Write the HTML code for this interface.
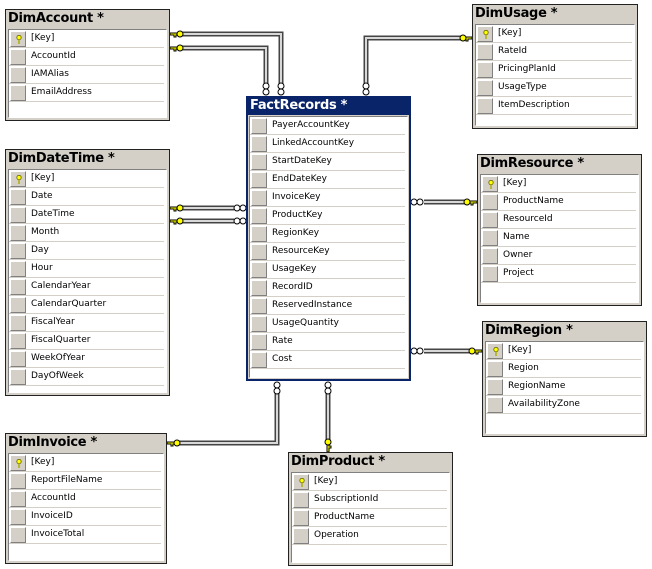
<!DOCTYPE html>
<html><head><meta charset="utf-8"><style>
body{margin:0;width:652px;height:569px;background:#fff;position:relative;overflow:hidden;font-family:"DejaVu Sans","Liberation Sans",sans-serif;}
.t{position:absolute;border:1px solid #222;background:#d4d0c8;box-sizing:border-box;}
.t .h{position:absolute;left:2px;top:1px;font:bold 13px "DejaVu Sans",sans-serif;color:#000;letter-spacing:-0.3px;}
.t .b{position:absolute;left:2px;right:2px;top:19px;bottom:2px;background:#fff;border:1px solid #808080;border-right-color:#fff;border-bottom-color:#fff;box-sizing:border-box;}
.r{height:18px;box-sizing:border-box;border-bottom:1px solid #d4d0c8;margin-right:2px;position:relative;font-size:9px;line-height:17px;color:#000;}
.r .k{position:absolute;left:1px;top:1px;width:16px;height:16px;box-sizing:border-box;background:#d4d0c8;border:1px solid;border-color:#fff #808080 #808080 #fff;}
.r span{position:absolute;left:22px;top:0;}
.f{border:2px solid #0a246a;}
.f .h{color:#fff;left:0;right:0;top:0;height:17px;background:#0a246a;padding-left:2px;}
.key{position:absolute;left:5px;top:3px;width:6px;height:9px;}
</style></head><body>
<svg width="652" height="569" style="position:absolute;left:0;top:0">
<g fill="none" stroke-linejoin="miter">
<g stroke="#444" stroke-width="5">
<polyline points="180,34 281,34 281,85"/>
<polyline points="180,48 266,48 266,85"/>
<polyline points="462,38 366,38 366,85"/>
<polyline points="180,208 234,208"/>
<polyline points="180,221 234,221"/>
<polyline points="424,202 466,202"/>
<polyline points="424,351 471,351"/>
<polyline points="176,443 277,443 277,393"/>
<polyline points="328,393 328,440"/>
</g>
<g stroke="#d8d8d8" stroke-width="2">
<polyline points="180,34 281,34 281,85"/>
<polyline points="180,48 266,48 266,85"/>
<polyline points="462,38 366,38 366,85"/>
<polyline points="180,208 234,208"/>
<polyline points="180,221 234,221"/>
<polyline points="424,202 466,202"/>
<polyline points="424,351 471,351"/>
<polyline points="176,443 277,443 277,393"/>
<polyline points="328,393 328,440"/>
</g>
</g>
<g fill="#fff" stroke="#000" stroke-width="1">
<circle cx="266" cy="86" r="3"/><circle cx="266" cy="92" r="3"/>
<circle cx="281" cy="86" r="3"/><circle cx="281" cy="92" r="3"/>
<circle cx="366" cy="86" r="3"/><circle cx="366" cy="92" r="3"/>
<circle cx="237" cy="208" r="3"/><circle cx="243" cy="208" r="3"/>
<circle cx="237" cy="221" r="3"/><circle cx="243" cy="221" r="3"/>
<circle cx="414" cy="202" r="3"/><circle cx="420" cy="202" r="3"/>
<circle cx="414" cy="351" r="3"/><circle cx="420" cy="351" r="3"/>
<circle cx="277" cy="385" r="3"/><circle cx="277" cy="391" r="3"/>
<circle cx="328" cy="385" r="3"/><circle cx="328" cy="391" r="3"/>
</g>
<g fill="#ff0" stroke="#000" stroke-width="1">
<path d="M170,33h8v2h-2v2h-2v-2h-4z"/><circle cx="180" cy="34" r="3"/>
<path d="M170,47h8v2h-2v2h-2v-2h-4z"/><circle cx="180" cy="48" r="3"/>
<path d="M170,207h8v2h-2v2h-2v-2h-4z"/><circle cx="180" cy="208" r="3"/>
<path d="M170,220h8v2h-2v2h-2v-2h-4z"/><circle cx="180" cy="221" r="3"/>
<path d="M167,442h8v2h-2v2h-2v-2h-4z"/><circle cx="177" cy="443" r="3"/>
<path d="M472,37h-8v2h2v2h2v-2h4z"/><circle cx="463" cy="38" r="3"/>
<path d="M477,201h-8v2h2v2h2v-2h4z"/><circle cx="467" cy="202" r="3"/>
<path d="M482,350h-8v2h2v2h2v-2h4z"/><circle cx="472" cy="351" r="3"/>
<path d="M327,452v-8h2v2h2v2h-2v4z"/><circle cx="328" cy="442" r="3"/>
</g>
</svg>
<div id="root"></div>
<script>
var T=[
["DimAccount *",5,9,165,112,["[Key]","AccountId","IAMAlias","EmailAddress"],0],
["DimDateTime *",5,149,165,247,["[Key]","Date","DateTime","Month","Day","Hour","CalendarYear","CalendarQuarter","FiscalYear","FiscalQuarter","WeekOfYear","DayOfWeek"],0],
["DimInvoice *",5,433,162,131,["[Key]","ReportFileName","AccountId","InvoiceID","InvoiceTotal"],0],
["FactRecords *",246,96,165,285,["PayerAccountKey","LinkedAccountKey","StartDateKey","EndDateKey","InvoiceKey","ProductKey","RegionKey","ResourceKey","UsageKey","RecordID","ReservedInstance","UsageQuantity","Rate","Cost"],1],
["DimUsage *",472,4,166,125,["[Key]","RateId","PricingPlanId","UsageType","ItemDescription"],0],
["DimResource *",477,154,165,152,["[Key]","ProductName","ResourceId","Name","Owner","Project"],0],
["DimRegion *",482,321,165,116,["[Key]","Region","RegionName","AvailabilityZone"],0],
["DimProduct *",288,452,165,114,["[Key]","SubscriptionId","ProductName","Operation"],0]
];
var h="";
T.forEach(function(t){
 h+='<div class="t'+(t[6]?' f':'')+'" style="left:'+t[1]+'px;top:'+t[2]+'px;width:'+t[3]+'px;height:'+t[4]+'px"><div class="h">'+t[0]+'</div><div class="b"'+(t[6]?' style="top:18px;left:1px;right:1px;bottom:1px"':'')+'>';
 t[5].forEach(function(r){
  var k=(r=="[Key]")?'<svg class="key" viewBox="0 0 6 9"><circle cx="3" cy="2.5" r="2.2" fill="#ff0" stroke="#660" stroke-width="0.8"/><rect x="2.3" y="4" width="1.4" height="5" fill="#aa0"/></svg>':'';
  h+='<div class="r"><div class="k">'+k+'</div><span>'+r+'</span></div>';
 });
 h+='</div></div>';
});
document.getElementById("root").innerHTML=h;
</script>
</body></html>
